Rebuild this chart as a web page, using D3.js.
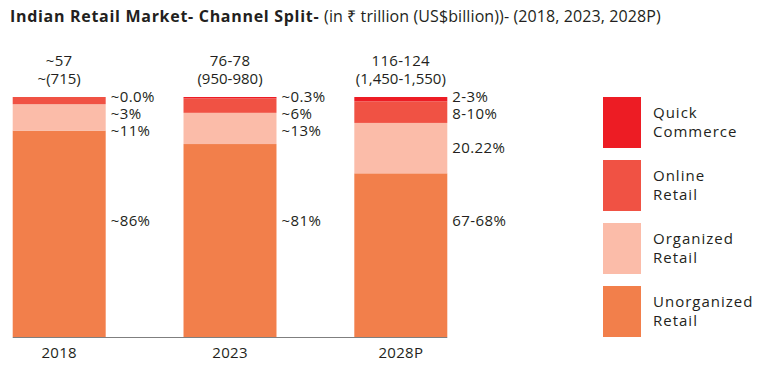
<!DOCTYPE html>
<html><head><meta charset="utf-8">
<script src="https://cdn.jsdelivr.net/npm/d3@7"></script>
<style>
html,body{margin:0;padding:0;background:#fff;}
svg{display:block;font-family:"Open Sans",sans-serif;}
</style></head>
<body><svg id="c" width="768" height="366"></svg>
<script>
const categories = ["2018", "2023", "2028P"];
const seriesNames = ["Quick Commerce", "Online Retail", "Organized Retail", "Unorganized Retail"];
const quickCommerce = [0, 0.6, 1.8];
const onlineRetail = [3, 6, 9];
const organizedRetail = [11, 13, 21];
const unorganizedRetail = [86, 80.4, 68.2];
const quickLabels = ["~0.0%", "~0.3%", "2-3%"];
const onlineLabels = ["~3%", "~6%", "8-10%"];
const organizedLabels = ["~11%", "~13%", "20.22%"];
const unorganizedLabels = ["~86%", "~81%", "67-68%"];
const totalINR = ["~57", "76-78", "116-124"];
const totalUSD = ["~(715)", "(950-980)", "(1,450-1,550)"];
const colors = ["#ED1C24", "#F05244", "#FBBCA9", "#F27F4B"];

const svg = d3.select("#c");
const textColor = "#231f20";
const fontSize = 15;

// title
const title = svg.append("text").attr("x", 10).attr("y", 22).attr("fill", textColor).style("font-size", "16px");
title.append("tspan").attr("font-weight", 700).style("letter-spacing", "0.7px").text("Indian Retail Market- Channel Split- ");
title.append("tspan").attr("font-weight", 400).style("letter-spacing", "0.1px").text("(in ₹ trillion (US$billion))- (2018, 2023, 2028P)");

const rows = categories.map((c, i) => ({
  cat: c,
  "Unorganized Retail": unorganizedRetail[i],
  "Organized Retail": organizedRetail[i],
  "Online Retail": onlineRetail[i],
  "Quick Commerce": quickCommerce[i]
}));
const keys = ["Unorganized Retail", "Organized Retail", "Online Retail", "Quick Commerce"];
const stack = d3.stack().keys(keys)(rows);
const color = d3.scaleOrdinal().domain(seriesNames).range(colors);

const x = d3.scaleBand().domain(categories).range([-30, 490]).paddingInner(0.4556).paddingOuter(0.25);
const y = d3.scaleLinear().domain([0, 100]).range([337, 97]);

const g = svg.append("g");
stack.forEach(layer => {
  g.selectAll(null).data(layer).enter().append("rect")
    .attr("x", d => x(d.data.cat))
    .attr("width", x.bandwidth())
    .attr("y", d => y(d[1]))
    .attr("height", d => y(d[0]) - y(d[1]))
    .attr("fill", color(layer.key));
});

// baseline
g.append("line")
  .attr("x1", x(categories[0])).attr("x2", x(categories[2]) + x.bandwidth())
  .attr("y1", y(0) + 0.5).attr("y2", y(0) + 0.5)
  .attr("stroke", "#7f7f7f").attr("stroke-width", 1.2);

// x labels
const xAxis = d3.axisBottom(x).tickSize(0).tickPadding(10);
const ax = svg.append("g").attr("transform", `translate(0,${y(0)})`).call(xAxis);
ax.select(".domain").remove();
ax.selectAll("text").attr("fill", textColor).style("font-size", fontSize + "px")
  .style("font-family", "'Open Sans',sans-serif").style("letter-spacing", "0.3px");

// totals
categories.forEach((c, i) => {
  const cx = x(c) + x.bandwidth() / 2;
  svg.append("text").attr("x", cx).attr("y", y(100) - 36 + 5).attr("text-anchor", "middle")
    .attr("fill", textColor).style("font-size", fontSize + "px").style("letter-spacing", "0.3px").text(totalINR[i]);
  svg.append("text").attr("x", cx).attr("y", y(100) - 18 + 5).attr("text-anchor", "middle")
    .attr("fill", textColor).style("font-size", fontSize + "px").text(totalUSD[i]);
});

// segment labels
categories.forEach((c, i) => {
  const lx = x(c) + x.bandwidth() + 5;
  const top = y(100);
  const sOnline = stack[2][i], sOrg = stack[1][i];
  const mid = s => (y(s[0]) + y(s[1])) / 2;
  const yq = top;
  const yo = Math.max(mid(sOnline), yq + 17);
  const yg = Math.max(mid(sOrg), yo + 17);
  const yu = y(48.5);
  [[quickLabels[i], yq], [onlineLabels[i], yo], [organizedLabels[i], yg], [unorganizedLabels[i], yu]].forEach(([t, yy]) => {
    svg.append("text").attr("x", lx).attr("y", yy).attr("dy", "0.35em")
      .attr("fill", textColor).style("font-size", fontSize + "px").style("letter-spacing", "0.4px").text(t);
  });
});

// legend
const legendNames = [["Quick", "Commerce"], ["Online", "Retail"], ["Organized", "Retail"], ["Unorganized", "Retail"]];
const lg = svg.append("g").attr("transform", "translate(603,97)");
seriesNames.forEach((n, i) => {
  const gi = lg.append("g").attr("transform", `translate(0,${i * 63})`);
  gi.append("rect").attr("width", 38).attr("height", 51).attr("fill", color(n));
  legendNames[i].forEach((t, j) => {
    gi.append("text").attr("x", 50).attr("y", 16 + j * 19).attr("dy", "0.35em")
      .attr("fill", textColor).style("font-size", fontSize + "px").style("letter-spacing", "1px").text(t);
  });
});
</script></body></html>
